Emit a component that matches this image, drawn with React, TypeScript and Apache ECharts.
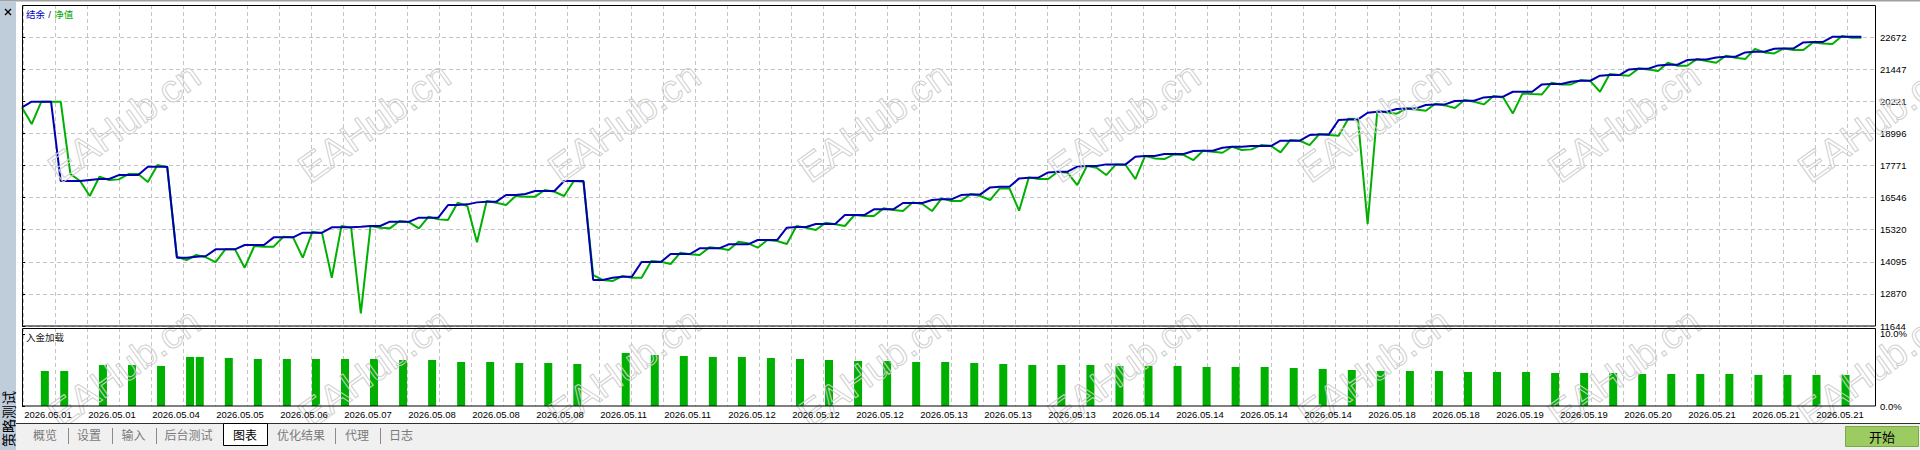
import React, { useEffect, useRef } from "react";
import * as echarts from "echarts";

// 净值 (equity), one value per deal
const equity = [
  19988, 19352, 20205, 20205, 20205, 17444, 17177, 16605, 17343, 17216,
  17241, 17444, 17444, 17139, 17788, 17699, 14290, 14163, 14354, 14265,
  14086, 14570, 14570, 13870, 14697, 14672, 14672, 15053, 15028, 14252,
  15244, 15180, 13488, 15460, 15396, 12127, 15460, 15396, 15371, 15651,
  15600, 15371, 15816, 15714, 15689, 16350, 16223, 14837, 16414, 16350,
  16261, 16605, 16580, 16580, 16834, 16770, 16605, 17177, 17152, 13590,
  13400, 13361, 13552, 13488, 13488, 14124, 14099, 14010, 14443, 14379,
  14354, 14646, 14608, 14544, 14862, 14799, 14633, 14926, 14888, 14773,
  15460, 15396, 15307, 15587, 15524, 15460, 15880, 15842, 15842, 16135,
  16071, 16032, 16363, 16300, 16032, 16516, 16414, 16414, 16681, 16605,
  16452, 16897, 16897, 16045, 17317, 17254, 17254, 17534, 17495, 17024,
  17750, 17686, 17406, 17813, 17788, 17254, 18131, 18042, 18017, 18195,
  18169, 17979, 18335, 18296, 18258, 18487, 18360, 18386, 18551, 18526,
  18271, 18742, 18716, 18551, 18970, 18932, 18907, 19556, 19543, 15536,
  19861, 19797, 19747, 19938, 19912, 19861, 20128, 20065, 19963, 20268,
  20205, 20103, 20421, 20370, 19759, 20523, 20497, 20484, 20930, 20866,
  20866, 21031, 20993, 20586, 21260, 21222, 21197, 21477, 21438, 21375,
  21693, 21578, 21578, 21833, 21757, 21693, 21960, 21884, 21833, 22215,
  22088, 22049, 22240, 22176, 22176, 22469, 22431, 22405, 22710, 22647,
  22647,
];

// 结余 (balance)
const balance = [
  19988, 20205, 20205, 20205, 17177, 17177, 17177, 17216, 17254, 17254,
  17406, 17406, 17406, 17724, 17724, 17724, 14252, 14252, 14290, 14315,
  14570, 14570, 14570, 14735, 14735, 14735, 15028, 15028, 15028, 15206,
  15206, 15206, 15409, 15409, 15409, 15434, 15460, 15460, 15626, 15626,
  15626, 15778, 15778, 15778, 16261, 16261, 16287, 16363, 16389, 16389,
  16643, 16643, 16681, 16796, 16796, 16796, 17177, 17177, 17177, 13400,
  13400, 13488, 13527, 13527, 14086, 14086, 14086, 14392, 14392, 14392,
  14608, 14608, 14608, 14760, 14760, 14760, 14926, 14926, 14926, 15396,
  15421, 15421, 15536, 15536, 15536, 15880, 15880, 15880, 16097, 16097,
  16097, 16338, 16338, 16338, 16452, 16478, 16478, 16643, 16668, 16668,
  16935, 16961, 16961, 17279, 17304, 17304, 17508, 17534, 17534, 17724,
  17750, 17750, 17813, 17813, 17813, 18106, 18131, 18131, 18207, 18207,
  18207, 18322, 18335, 18335, 18449, 18487, 18487, 18513, 18513, 18513,
  18716, 18716, 18716, 18932, 18958, 18958, 19505, 19530, 19530, 19785,
  19823, 19823, 19925, 19950, 19950, 20078, 20103, 20103, 20230, 20243,
  20243, 20370, 20396, 20396, 20586, 20586, 20586, 20866, 20879, 20879,
  20968, 21006, 21006, 21197, 21222, 21222, 21438, 21464, 21464, 21591,
  21617, 21617, 21795, 21820, 21820, 21897, 21922, 21922, 22088, 22113,
  22113, 22227, 22240, 22240, 22469, 22482, 22482, 22685, 22685, 22685,
  22685,
];

// 入金加载: deal index and load in %
const loadDeal = [
  2, 4, 8, 11, 14, 17, 18, 21, 24, 27, 30,
  33, 36, 39, 42, 45, 48, 51, 54, 57, 62,
  65, 68, 71, 74, 77, 80, 83, 86, 89, 92, 95,
  98, 101, 104, 107, 110, 113, 116, 119, 122, 125,
  128, 131, 134, 137, 140, 143, 146, 149, 152, 155, 158,
  161, 164, 167, 170, 173, 176, 179, 182, 185, 188,
];
const loadPct = [
  4.86, 4.86, 5.69, 5.69, 5.56, 6.81, 6.81, 6.67, 6.53, 6.53, 6.53,
  6.53, 6.53, 6.39, 6.39, 6.11, 6.11, 5.97, 5.97, 5.83, 7.36,
  7.08, 6.94, 6.81, 6.81, 6.67, 6.53, 6.39, 6.25, 6.25, 6.11, 6.11,
  5.97, 5.83, 5.69, 5.69, 5.69, 5.56, 5.56, 5.56, 5.42, 5.42,
  5.42, 5.28, 5.14, 5.0, 4.86, 4.86, 4.86, 4.72, 4.72, 4.72, 4.58,
  4.58, 4.58, 4.44, 4.44, 4.44, 4.44, 4.31, 4.31, 4.31, 4.31,
];

const dateLabels = [
  "2026.05.01", "2026.05.01", "2026.05.04", "2026.05.05", "2026.05.06",
  "2026.05.07", "2026.05.08", "2026.05.08", "2026.05.08", "2026.05.11",
  "2026.05.11", "2026.05.12", "2026.05.12", "2026.05.12", "2026.05.13",
  "2026.05.13", "2026.05.13", "2026.05.14", "2026.05.14", "2026.05.14",
  "2026.05.14", "2026.05.18", "2026.05.18", "2026.05.19", "2026.05.19",
  "2026.05.20", "2026.05.21", "2026.05.21", "2026.05.21",
];

const yTicks = [11644, 12870, 14095, 15320, 16546, 17771, 18996, 20221, 21447, 22672];
const loadTicks = [0, 10];

const tabs = ["概览", "设置", "输入", "后台测试", "图表", "优化结果", "代理", "日志"];
const activeTab = "图表";

// layout (px)
const PLOT_L = 22;
const PLOT_W = 1853;
const STEP = 9.681;
const X_MAX = PLOT_W / STEP;
const GRID_GAP = 32;
const GRID_OFF = 1.7;
const BAR_SHIFT = 3.5 / STEP;
const Y_MIN = 11644;
const Y_MAX = 11644 + 10 * 1225.31;
const LOAD_MAX = 10.83;

const gridPos: number[] = [];
for (let m = 0; m * GRID_GAP + GRID_OFF < PLOT_W; m++) gridPos.push((GRID_OFF + m * GRID_GAP) / STEP);

const FONT = "Liberation Sans";
const CJK = "Noto Sans CJK SC";
const dash = { color: "#c4c4c4", type: [4, 3] as number[], width: 1 };

const tabX = [45, 89, 133.5, 188.5, 245, 301, 357, 401];
const sepX = [68, 112, 156, 335, 380];

export default function App() {
  const chartRef = useRef<HTMLDivElement>(null);

  useEffect(() => {
    if (!chartRef.current) return;
    const chart = echarts.init(chartRef.current, null, { renderer: "svg" });

    const watermarks: any[] = [];
    for (let k = 0; k < 8; k++) {
      for (const cy of [122, 368]) {
        watermarks.push({
          type: "text",
          x: 124 + k * 250,
          y: cy,
          rotation: 0.62,
          z: 10,
          silent: true,
          style: {
            text: "EAHub.cn",
            fontSize: 39,
            fontFamily: FONT,
            fill: "none",
            stroke: "#cfcfcf",
            lineWidth: 1,
            align: "center",
            verticalAlign: "middle",
          },
        });
      }
    }

    // date labels: left-aligned at every other vertical grid line
    const dateTexts = dateLabels.map((d, k) => ({
      type: "text",
      x: PLOT_L + GRID_OFF + 2 * GRID_GAP * k + 0.5,
      y: 409,
      z: 40,
      style: {
        text: d,
        fontSize: 9.5,
        fontFamily: FONT,
        fill: "#000",
        align: "left",
        verticalAlign: "top",
      },
    }));

    const tabTexts = tabs.map((t, i) => ({
      type: "text",
      x: tabX[i],
      y: 434,
      z: 32,
      style: {
        text: t,
        fontSize: 12,
        fontFamily: CJK,
        fill: t === activeTab ? "#000" : "#7a7a7a",
        align: "center",
        verticalAlign: "middle",
      },
    }));

    const seps = sepX.map((x) => ({
      type: "line",
      z: 31,
      shape: { x1: x + 0.5, y1: 428, x2: x + 0.5, y2: 444 },
      style: { stroke: "#8a8a8a", lineWidth: 1 },
    }));

    const option: echarts.EChartsOption = {
      animation: false,
      backgroundColor: "#fff",
      grid: [
        { left: PLOT_L, top: 5, width: PLOT_W, height: 321 },
        { left: PLOT_L, top: 328, width: PLOT_W, height: 78 },
      ],
      xAxis: [
        {
          gridIndex: 0,
          type: "value",
          min: 0,
          max: X_MAX,
          axisLine: { show: false },
          axisTick: { show: false, customValues: gridPos },
          axisLabel: { show: false },
          splitLine: { show: true, lineStyle: dash },
        },
        {
          gridIndex: 1,
          type: "value",
          min: 0,
          max: X_MAX,
          axisLine: { show: false },
          axisTick: { show: false, customValues: gridPos },
          axisLabel: { show: false },
          splitLine: { show: true, lineStyle: dash },
        },
        {
          gridIndex: 1,
          type: "value",
          min: -BAR_SHIFT,
          max: X_MAX - BAR_SHIFT,
          show: false,
        },
      ],
      yAxis: [
        {
          gridIndex: 0,
          type: "value",
          position: "right",
          min: Y_MIN,
          max: Y_MAX,
          axisLine: { show: false },
          axisTick: { show: true, length: 3, customValues: yTicks, lineStyle: { color: "#000" } },
          axisLabel: {
            customValues: yTicks,
            showMinLabel: true,
            margin: 5,
            fontSize: 9.5,
            fontFamily: FONT,
            color: "#000",
            formatter: (v: number) => String(Math.round(v)),
          },
          splitLine: { show: true, lineStyle: dash },
        },
        {
          gridIndex: 1,
          type: "value",
          position: "right",
          min: 0,
          max: LOAD_MAX,
          axisLine: { show: false },
          axisTick: { show: true, length: 3, customValues: loadTicks, lineStyle: { color: "#000" } },
          axisLabel: {
            customValues: loadTicks,
            showMinLabel: true,
            margin: 5,
            fontSize: 9.5,
            fontFamily: FONT,
            color: "#000",
            formatter: (v: number) => v.toFixed(1) + "%",
          },
          splitLine: { show: false },
        },
      ],
      series: [
        {
          name: "净值",
          type: "line",
          xAxisIndex: 0,
          yAxisIndex: 0,
          data: equity.map((v, i) => [i, v]),
          showSymbol: false,
          lineStyle: { color: "#00b000", width: 2 },
          z: 2,
          silent: true,
        },
        {
          name: "结余",
          type: "line",
          xAxisIndex: 0,
          yAxisIndex: 0,
          data: balance.map((v, i) => [i, v]),
          showSymbol: false,
          lineStyle: { color: "#0000b0", width: 2 },
          z: 3,
          silent: true,
        },
        {
          name: "入金加载",
          type: "bar",
          xAxisIndex: 2,
          yAxisIndex: 1,
          data: loadDeal.map((d, k) => [d, loadPct[k]]),
          barWidth: 8,
          itemStyle: { color: "#00b000" },
          silent: true,
        },
      ],
      graphic: [
        ...dateTexts,
        { type: "rect", z: 30, shape: { x: 0, y: 0, width: 1920, height: 1.5 }, style: { fill: "#a0a0a0" } },
        { type: "rect", z: 30, shape: { x: 0, y: 1.5, width: 16, height: 448.5 }, style: { fill: "#bfccda" } },
        { type: "line", z: 31, shape: { x1: 5, y1: 9, x2: 11, y2: 15 }, style: { stroke: "#000", lineWidth: 1.3 } },
        { type: "line", z: 31, shape: { x1: 11, y1: 9, x2: 5, y2: 15 }, style: { stroke: "#000", lineWidth: 1.3 } },
        {
          type: "text",
          x: 8,
          y: 419,
          rotation: Math.PI / 2,
          z: 31,
          style: { text: "策略测试", fontSize: 14, fontFamily: CJK, fill: "#000", align: "center", verticalAlign: "middle" },
        },
        ...watermarks,
        {
          type: "rect",
          z: 15,
          shape: { x: PLOT_L + 0.5, y: 5.5, width: PLOT_W, height: 320.5 },
          style: { fill: "none", stroke: "#000", lineWidth: 1 },
        },
        {
          type: "rect",
          z: 15,
          shape: { x: PLOT_L + 0.5, y: 328.5, width: PLOT_W, height: 77.5 },
          style: { fill: "none", stroke: "#000", lineWidth: 1 },
        },
        {
          type: "text",
          x: 26,
          y: 14,
          z: 15,
          style: {
            text: "{b|结余} {s|/} {g|净值}",
            verticalAlign: "middle",
            rich: {
              b: { fontSize: 9.5, fontFamily: CJK, fill: "#0000c8" },
              s: { fontSize: 9.5, fontFamily: FONT, fill: "#202060" },
              g: { fontSize: 9.5, fontFamily: CJK, fill: "#00a800" },
            },
          },
        },
        {
          type: "text",
          x: 26,
          y: 337,
          z: 15,
          style: { text: "入金加载", fontSize: 9.5, fontFamily: CJK, fill: "#202020", verticalAlign: "middle" },
        },
        { type: "rect", z: 30, shape: { x: 16, y: 423, width: 1904, height: 27 }, style: { fill: "#f0f0f0" } },
        { type: "line", z: 31, shape: { x1: 16, y1: 423.5, x2: 1920, y2: 423.5 }, style: { stroke: "#303030", lineWidth: 1 } },
        { type: "rect", z: 31, shape: { x: 223.5, y: 423.5, width: 44, height: 22 }, style: { fill: "#fff", stroke: "#000", lineWidth: 1 } },
        ...seps,
        ...tabTexts,
        {
          type: "rect",
          z: 31,
          shape: { x: 1845.5, y: 426.5, width: 73, height: 20 },
          style: { fill: "#9ccb62", stroke: "#7da84a", lineWidth: 1 },
        },
        {
          type: "text",
          x: 1882,
          y: 436.5,
          z: 32,
          style: { text: "开始", fontSize: 13, fontFamily: CJK, fill: "#000", align: "center", verticalAlign: "middle" },
        },
      ],
    };

    chart.setOption(option);
    return () => chart.dispose();
  }, []);

  return (
    <div
      ref={chartRef}
      style={{ position: "absolute", left: 0, top: 0, width: 1920, height: 450, background: "#fff" }}
    />
  );
}
